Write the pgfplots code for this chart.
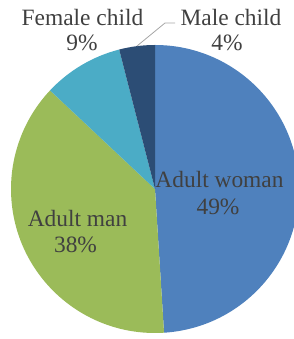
\documentclass[border=0pt]{standalone}
\usepackage{pgfplots}
\pgfplotsset{compat=1.18}
\usepackage{fontspec}
\setmainfont{Liberation Serif}
\definecolor{cA}{HTML}{4F81BD}
\definecolor{cB}{HTML}{9BBB59}
\definecolor{cC}{HTML}{4BACC6}
\definecolor{cD}{HTML}{2C4D75}
\definecolor{tx}{HTML}{404040}
\begin{document}
\begin{tikzpicture}
\begin{axis}[
  scale only axis, width=294bp, height=339bp,
  xmin=0, xmax=294, ymin=0, ymax=339,
  hide axis, clip=true,
]
% values: Adult woman 49, Adult man 38, Female child 9, Male child 4 (percent)
\fill[cA] (axis cs:155,150) -- ++(90:144bp) arc[start angle=90, end angle=-86.4, radius=144bp] -- cycle;
\fill[cB] (axis cs:155,150) -- ++(-86.4:144bp) arc[start angle=-86.4, end angle=-223.2, radius=144bp] -- cycle;
\fill[cC] (axis cs:155,150) -- ++(-223.2:144bp) arc[start angle=-223.2, end angle=-255.6, radius=144bp] -- cycle;
\fill[cD] (axis cs:155,150) -- ++(-255.6:144bp) arc[start angle=-255.6, end angle=-270, radius=144bp] -- cycle;
\draw[color=black!35, line width=0.8bp] (axis cs:137,293) -- (axis cs:165,316) -- (axis cs:175,316);
\begin{scope}[every node/.style={text=tx, font=\fontsize{23.5}{28}\selectfont, inner sep=0pt}]
\node at (axis cs:82.5,322) {Female child};
\node at (axis cs:82,296) {9\%};
\node at (axis cs:231,322) {Male child};
\node at (axis cs:227,296) {4\%};
\node at (axis cs:219.5,160) {Adult woman};
\node at (axis cs:218,132) {49\%};
\node at (axis cs:77.5,121) {Adult man};
\node at (axis cs:75.5,94) {38\%};
\end{scope}
\end{axis}
\pgfresetboundingbox
\path (0,0) rectangle (294bp,339bp);
\end{tikzpicture}
\end{document}
